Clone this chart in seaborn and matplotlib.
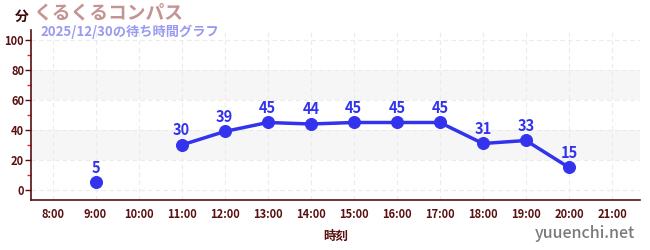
import numpy as np
import pandas as pd
import matplotlib
matplotlib.use("Agg")
import matplotlib.pyplot as plt
import seaborn as sns
from matplotlib.ticker import MultipleLocator, FixedLocator

hours = [9, 11, 12, 13, 14, 15, 16, 17, 18, 19, 20]
waits = [5, 30, 39, 45, 44, 45, 45, 45, 31, 33, 15]
segments = [0, 1, 1, 1, 1, 1, 1, 1, 1, 1, 1]
tick_hours = list(range(8, 22))
tick_labels = [f"{h}:00" for h in tick_hours]
title = "くるくるコンパス"
subtitle = "2025/12/30の待ち時間グラフ"

df = pd.DataFrame({"hour": hours, "wait": waits, "seg": segments})

sns.set_theme(style="white")
plt.rcParams["font.family"] = ["Noto Sans CJK JP", "DejaVu Sans"]

fig = plt.figure(figsize=(6.5, 2.5), dpi=100)
ax = fig.add_axes([31 / 650, 50 / 250, 609 / 650, 170 / 250])

line_c = "#3333ee"
dark = "#5a1010"

for lo, hi in [(20, 40), (60, 80)]:
    ax.axhspan(lo, hi, color="#f6f6f6", zorder=0, lw=0)

sns.lineplot(data=df, x="hour", y="wait", units="seg", estimator=None,
             color=line_c, lw=2.5, ax=ax, zorder=3)
sns.scatterplot(data=df, x="hour", y="wait", color=line_c, s=75,
                edgecolor=line_c, ax=ax, zorder=4, legend=False)
for h, w in zip(hours, waits):
    ax.text(h, w + 4.5, str(w), ha="center", va="bottom", color=line_c,
            fontsize=10.5, fontweight="bold", zorder=5)

ax.set_xlim(7.5, 21.65)
ax.set_ylim(-6.67, 106.67)
ax.xaxis.set_major_locator(FixedLocator(tick_hours))
ax.set_xticklabels(tick_labels)
ax.yaxis.set_major_locator(MultipleLocator(20))
ax.yaxis.set_minor_locator(MultipleLocator(10))
ax.grid(True, which="major", color="#ebebeb", ls=(0, (4, 3)), lw=0.8)
ax.set_axisbelow(True)

for s in ["top", "right"]:
    ax.spines[s].set_visible(False)
for s in ["left", "bottom"]:
    ax.spines[s].set_color(dark)
    ax.spines[s].set_linewidth(1.2)

ax.tick_params(axis="x", which="major", length=4, width=1, color="#777777",
               labelsize=8, labelcolor=dark, pad=2)
ax.tick_params(axis="y", which="major", length=4, width=1, color=dark,
               labelsize=8, labelcolor=dark, left=True, pad=1)
ax.tick_params(axis="y", which="minor", length=3, width=1, color="#ee2222", left=True)
for lab in ax.get_xticklabels() + ax.get_yticklabels():
    lab.set_fontweight("bold")

ax.set_xlabel("時刻", fontsize=9, fontweight="bold", color=dark, labelpad=6)
ax.set_ylabel("")

fig.text(15 / 650, 1 - 17 / 250, "分", fontsize=10, fontweight="bold", color="#3a0a0a",
         ha="left", va="center")
fig.text(33 / 650, 1 - 13 / 250, title, fontsize=13.5, fontweight="bold", color="#c49393",
         ha="left", va="center")
fig.text(40 / 650, 1 - 32 / 250, subtitle, fontsize=9.5, fontweight="bold", color="#9a9af0",
         ha="left", va="center")
fig.text(635 / 650, 1 - 233 / 250, "yuuenchi.net", fontsize=11.5, fontweight="medium",
         color="#7a7a7a", ha="right", va="center")

fig.savefig("out.png", dpi=100)
